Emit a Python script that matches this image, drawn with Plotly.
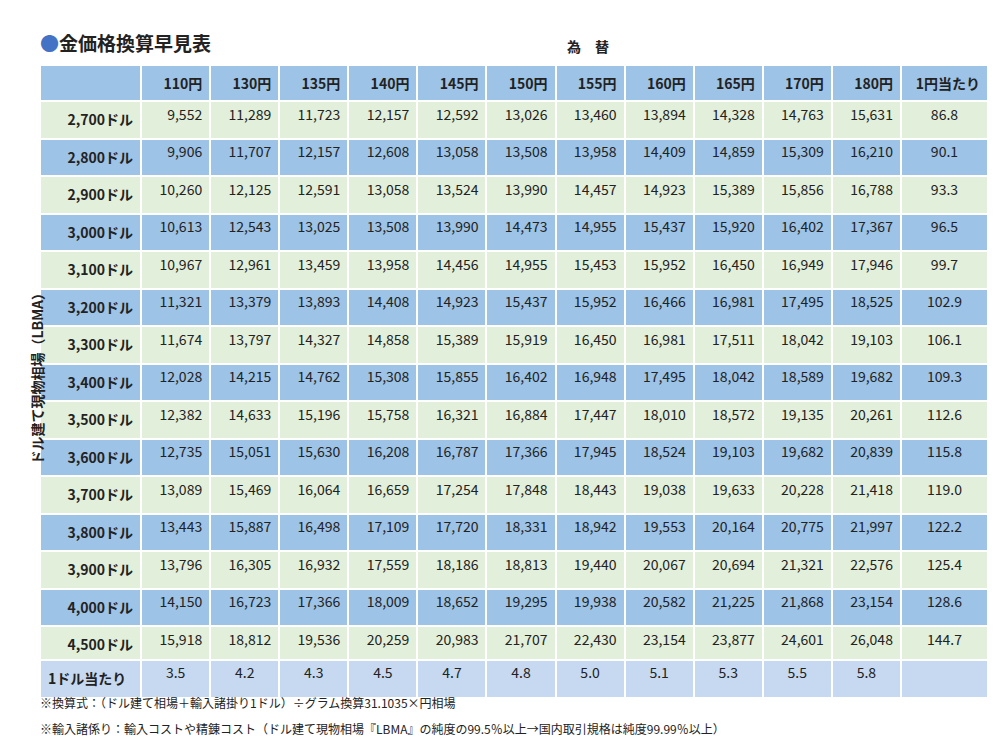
import plotly.graph_objects as go

rates = ["110円", "130円", "135円", "140円", "145円", "150円", "155円", "160円", "165円", "170円", "180円"]
prices = ["2,700ドル", "2,800ドル", "2,900ドル", "3,000ドル", "3,100ドル", "3,200ドル", "3,300ドル", "3,400ドル",
          "3,500ドル", "3,600ドル", "3,700ドル", "3,800ドル", "3,900ドル", "4,000ドル", "4,500ドル"]

table = [
    [9552, 11289, 11723, 12157, 12592, 13026, 13460, 13894, 14328, 14763, 15631],
    [9906, 11707, 12157, 12608, 13058, 13508, 13958, 14409, 14859, 15309, 16210],
    [10260, 12125, 12591, 13058, 13524, 13990, 14457, 14923, 15389, 15856, 16788],
    [10613, 12543, 13025, 13508, 13990, 14473, 14955, 15437, 15920, 16402, 17367],
    [10967, 12961, 13459, 13958, 14456, 14955, 15453, 15952, 16450, 16949, 17946],
    [11321, 13379, 13893, 14408, 14923, 15437, 15952, 16466, 16981, 17495, 18525],
    [11674, 13797, 14327, 14858, 15389, 15919, 16450, 16981, 17511, 18042, 19103],
    [12028, 14215, 14762, 15308, 15855, 16402, 16948, 17495, 18042, 18589, 19682],
    [12382, 14633, 15196, 15758, 16321, 16884, 17447, 18010, 18572, 19135, 20261],
    [12735, 15051, 15630, 16208, 16787, 17366, 17945, 18524, 19103, 19682, 20839],
    [13089, 15469, 16064, 16659, 17254, 17848, 18443, 19038, 19633, 20228, 21418],
    [13443, 15887, 16498, 17109, 17720, 18331, 18942, 19553, 20164, 20775, 21997],
    [13796, 16305, 16932, 17559, 18186, 18813, 19440, 20067, 20694, 21321, 22576],
    [14150, 16723, 17366, 18009, 18652, 19295, 19938, 20582, 21225, 21868, 23154],
    [15918, 18812, 19536, 20259, 20983, 21707, 22430, 23154, 23877, 24601, 26048],
]
per_yen = [86.8, 90.1, 93.3, 96.5, 99.7, 102.9, 106.1, 109.3, 112.6, 115.8, 119.0, 122.2, 125.4, 128.6, 144.7]
per_dollar = [3.5, 4.2, 4.3, 4.5, 4.7, 4.8, 5.0, 5.1, 5.3, 5.5, 5.8]

FONT = dict(family="Noto Sans CJK JP", size=14, color="#222")
green, blue, light = "#e2efda", "#9dc3e6", "#c6d9f0"
widths = [101] + [69] * len(rates) + [87]

header = [""] + ["<b>%s</b>" % r for r in rates] + ["<b>1円当たり</b>"]
cols = [["<b>%s</b>" % p for p in prices]]
for j in range(len(rates)):
    cols.append([f"{row[j]:,}" for row in table])
cols.append([f"{v:.1f}" for v in per_yen])

row_fill = [green if i % 2 == 0 else blue for i in range(len(prices))]
fills = [row_fill] * len(cols)

fig = go.Figure()
fig.add_trace(go.Table(
    domain=dict(x=[0.032, 0.98], y=[0.1307, 0.924]),
    columnwidth=widths,
    header=dict(values=header, fill_color=blue, line_color="white", line_width=2,
                align="right", height=33, font=FONT),
    cells=dict(values=cols, fill_color=fills, line_color="white", line_width=2,
               align=["right"] * (len(cols) - 1) + ["center"], height=37.5, font=FONT),
))

last = ["<b>1ドル当たり</b>"] + [f"{v:.1f}" for v in per_dollar] + [""]
fig.add_trace(go.Table(
    domain=dict(x=[0.032, 0.98], y=[0.08, 0.1307]),
    columnwidth=widths,
    header=dict(values=last, fill_color=light, line_color="white", line_width=2,
                align=["left"] + ["center"] * (len(last) - 1), height=38, font=FONT),
    cells=dict(values=[[] for _ in last]),
))

fig.add_annotation(x=0.03, y=0.975, xref="paper", yref="paper", xanchor="left",
                   text="<b><span style='color:#4472c4'>●</span>金価格換算早見表</b>",
                   showarrow=False, font=dict(family="Noto Sans CJK JP", size=19, color="#222"))
fig.add_annotation(x=0.58, y=0.965, xref="paper", yref="paper",
                   text="<b>為　替</b>", showarrow=False, font=FONT)
fig.add_annotation(x=0.016, y=0.51, xref="paper", yref="paper", textangle=-90,
                   text="<b>ドル建て現物相場（LBMA）</b>", showarrow=False, font=FONT)
fig.add_annotation(x=0.03, y=0.06, xref="paper", yref="paper", xanchor="left",
                   text="※換算式：（ドル建て相場＋輸入諸掛り1ドル）÷グラム換算31.1035×円相場",
                   showarrow=False, font=dict(family="Noto Sans CJK JP", size=12, color="#222"))
fig.add_annotation(x=0.03, y=0.025, xref="paper", yref="paper", xanchor="left",
                   text="※輸入諸係り：輸入コストや精錬コスト（ドル建て現物相場『LBMA』の純度の99.5％以上→国内取引規格は純度99.99％以上）",
                   showarrow=False, font=dict(family="Noto Sans CJK JP", size=12, color="#222"))

fig.update_layout(width=1000, height=750, margin=dict(l=0, r=0, t=0, b=0),
                  paper_bgcolor="white")
fig.write_html("out.html")
